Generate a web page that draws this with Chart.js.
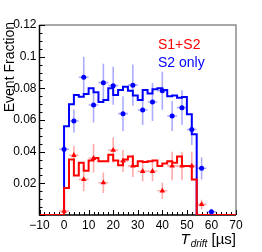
<!DOCTYPE html>
<html><head><meta charset="utf-8">
<script src="https://cdn.jsdelivr.net/npm/chart.js@4"></script>
<style>html,body{margin:0;padding:0;background:#fff}canvas{display:block}</style>
</head><body>
<canvas id="c" width="262" height="252"></canvas>
<script>
// histogram bin left edges (µs), bin width 2
const binLeft = [0,2,4,6,8,10,12,14,16,18,20,22,24,26,28,30,32,34,36,38,40,42,44,46,48,50,52];
const binRightEnd = 54;
const s2OnlyHist = [0.056,0.070,0.0758,0.0747,0.0764,0.080,0.0775,0.0713,0.0726,0.080,0.0758,0.079,0.081,0.0785,0.0755,0.0726,0.079,0.0767,0.0794,0.080,0.079,0.075,0.0755,0.074,0.0745,0.0636,0.051];
const s1s2Hist   = [0.017,0.035,0.025,0.033,0.028,0.0345,0.036,0.034,0.034,0.038,0.0345,0.0315,0.035,0.037,0.031,0.034,0.0335,0.034,0.0345,0.031,0.0325,0.034,0.033,0.037,0.031,0.031,0.0225];
// data points
const s2OnlyX   = [0,4,8,12,16,20,24,28,32,36,40,44,48,52,56,60];
const s2OnlyY   = [0.0415,0.0594,0.087,0.0695,0.0836,0.0817,0.064,0.082,0.0663,0.0714,0.0785,0.0625,0.0678,0.054,0.0295,0.002];
const s2OnlyErr = [0.005,0.0073,0.013,0.011,0.012,0.012,0.011,0.013,0.0095,0.012,0.012,0.0095,0.011,0.0098,0.007,0.002];
const s1s2X   = [0,4,8,12,16,20,24,28,32,36,40,44,48,52,56];
const s1s2Y   = [0.0025,0.0377,0.0225,0.0358,0.0204,0.041,0.0341,0.031,0.0276,0.0276,0.0153,0.031,0.031,0.031,0.0067];
const s1s2Err = [0.002,0.006,0.0075,0.009,0.0065,0.008,0.007,0.007,0.0063,0.0063,0.0052,0.009,0.009,0.009,0.003];
const xHalfBin = 2;
const xTicks = [-10,0,10,20,30,40,50,60,70];
const yTicks = [0.02,0.04,0.06,0.08,0.1,0.12];
const legendLabels = ['S1+S2','S2 only'];

const X_MIN=-10, X_MAX=70, Y_MIN=0, Y_MAX=0.12;
const FONT = '"Liberation Sans", Arial, Helvetica, sans-serif';

function histData(vals){
  const d=[{x:X_MIN,y:0}];
  binLeft.forEach((x,i)=>d.push({x:x,y:vals[i]}));
  d.push({x:binRightEnd,y:0});
  d.push({x:X_MAX,y:0});
  return d;
}
function ptData(xs,ys){ return xs.map((x,i)=>({x:x,y:ys[i]})); }

const errInfo = {
  2:{xs:s1s2X,ys:s1s2Y,es:s1s2Err,color:'rgba(255,0,0,0.33)'},
  3:{xs:s2OnlyX,ys:s2OnlyY,es:s2OnlyErr,color:'rgba(0,0,255,0.33)'}
};

const deco = {
  id:'deco',
  beforeDatasetsDraw(chart){
    const ctx=chart.ctx, a=chart.chartArea, xs=chart.scales.x, ys=chart.scales.y;
    ctx.save();
    ctx.strokeStyle='#8c8c8c'; ctx.lineWidth=1.5;
    ctx.beginPath(); ctx.moveTo(a.left,a.top); ctx.lineTo(a.right,a.top); ctx.lineTo(a.right,a.bottom); ctx.stroke();
    ctx.strokeStyle='#000'; ctx.lineWidth=1.5;
    ctx.beginPath(); ctx.moveTo(a.left,a.top); ctx.lineTo(a.left,a.bottom); ctx.lineTo(a.right,a.bottom); ctx.stroke();
    ctx.lineWidth=1;
    for(let k=0;k<=24;k++){
      const v=k*0.005, py=Math.round(ys.getPixelForValue(v))+0.5;
      const len=(k%4===0)?5.5:3;
      ctx.beginPath(); ctx.moveTo(a.left,py); ctx.lineTo(a.left+len,py); ctx.stroke();
    }
    for(let v=X_MIN; v<=X_MAX; v+=2){
      const px=Math.round(xs.getPixelForValue(v))+0.5;
      const len=(v%10===0)?5:3;
      ctx.beginPath(); ctx.moveTo(px,a.bottom); ctx.lineTo(px,a.bottom-len); ctx.stroke();
    }
    ctx.restore();
  },
  beforeDatasetDraw(chart,args){
    const info=errInfo[args.index]; if(!info) return;
    const ctx=chart.ctx, a=chart.chartArea, xs=chart.scales.x, ys=chart.scales.y;
    ctx.save();
    ctx.beginPath(); ctx.rect(a.left,a.top,a.right-a.left,a.bottom-a.top); ctx.clip();
    ctx.strokeStyle=info.color; ctx.lineWidth=1.6;
    info.xs.forEach((x,i)=>{
      const px=xs.getPixelForValue(x), py=ys.getPixelForValue(info.ys[i]);
      ctx.beginPath();
      ctx.moveTo(px, ys.getPixelForValue(info.ys[i]-info.es[i]));
      ctx.lineTo(px, ys.getPixelForValue(info.ys[i]+info.es[i]));
      ctx.moveTo(xs.getPixelForValue(x-xHalfBin), py);
      ctx.lineTo(xs.getPixelForValue(x+xHalfBin), py);
      ctx.stroke();
    });
    ctx.restore();
  },
  afterDraw(chart){
    const ctx=chart.ctx, a=chart.chartArea;
    ctx.save();
    ctx.fillStyle='#000';
    ctx.save();
    ctx.translate(13.5, a.top-3);
    ctx.rotate(-Math.PI/2);
    ctx.font='14px '+FONT; ctx.textAlign='right'; ctx.textBaseline='alphabetic';
    ctx.fillText('Event Fraction',0,0);
    ctx.restore();
    const f1='italic 15px '+FONT, f2='italic 10px '+FONT, f3='15px '+FONT;
    ctx.font=f1; const wT=ctx.measureText('T').width;
    ctx.font=f2; const wD=ctx.measureText('drift').width;
    ctx.font=f3; const wU=ctx.measureText(' [µs]').width;
    let x0=a.right-(wT+wD+1+wU);
    const base=244;
    ctx.textAlign='left'; ctx.textBaseline='alphabetic';
    ctx.font=f1; ctx.fillText('T',x0,base); x0+=wT+1;
    ctx.font=f2; ctx.fillText('drift',x0,base+3); x0+=wD;
    ctx.font=f3; ctx.fillText(' [µs]',x0,base);
    ctx.font='14px '+FONT;
    ctx.fillStyle='#ff0000'; ctx.fillText(legendLabels[0],158,49);
    ctx.fillStyle='#0000ff'; ctx.fillText(legendLabels[1],158,67);
    ctx.restore();
  }
};

new Chart(document.getElementById('c'),{
  type:'scatter',
  data:{datasets:[
    {type:'line',label:'S1+S2 hist',data:histData(s1s2Hist),stepped:'before',borderColor:'#ff0000',borderWidth:2,pointRadius:0,fill:false,order:1},
    {type:'line',label:'S2 only hist',data:histData(s2OnlyHist),stepped:'before',borderColor:'#0000ff',borderWidth:2,pointRadius:0,fill:false,order:2},
    {label:'S1+S2',data:ptData(s1s2X,s1s2Y),pointStyle:'triangle',pointRadius:3.2,backgroundColor:'#ff0000',borderColor:'#ff0000',borderWidth:0,showLine:false,order:0},
    {label:'S2 only',data:ptData(s2OnlyX,s2OnlyY),pointStyle:'circle',pointRadius:2.5,backgroundColor:'#0000ff',borderColor:'#0000ff',borderWidth:0,showLine:false,order:0}
  ]},
  options:{
    responsive:false, animation:false, devicePixelRatio:1,
    layout:{padding:{top:25,right:26,left:0,bottom:0}},
    plugins:{legend:{display:false},tooltip:{enabled:false}},
    scales:{
      x:{type:'linear',min:X_MIN,max:X_MAX,
        grid:{display:false,drawTicks:false},border:{display:false},
        afterBuildTicks(s){s.ticks=xTicks.map(v=>({value:v}));},
        ticks:{padding:3,color:'#000',font:{family:FONT,size:12},maxRotation:0,autoSkip:false,
          callback:v=>v<0?'\u2212'+Math.abs(v):String(v)},
        afterFit(s){s.height=37;}},
      y:{type:'linear',min:Y_MIN,max:Y_MAX,
        grid:{display:false,drawTicks:false},border:{display:false},
        afterBuildTicks(s){s.ticks=yTicks.map(v=>({value:v}));},
        ticks:{padding:3,color:'#000',font:{family:FONT,size:12},autoSkip:false,
          callback:v=>String(parseFloat(v.toFixed(3)))},
        afterFit(s){s.width=39.5;}}
    }
  },
  plugins:[deco]
});
</script>
</body></html>
